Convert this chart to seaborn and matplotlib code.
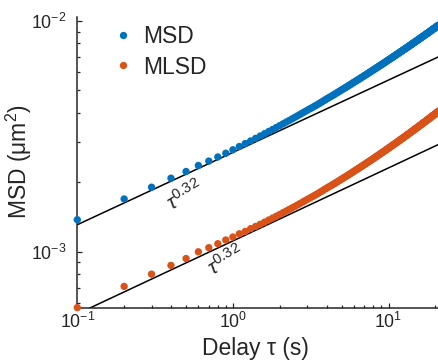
import numpy as np
import pandas as pd
import matplotlib
matplotlib.use("Agg")
import matplotlib.pyplot as plt
import seaborn as sns

# ---- data ----
tau = np.round(np.arange(1, 211) * 0.1, 1)  # delay, s

# MSD (units of 1e-3 um^2)
msd_e3 = [
    1.377, 1.694, 1.905, 2.084, 2.228, 2.366, 2.472, 2.576, 2.673, 2.767,
    2.858, 2.944, 3.022, 3.101, 3.177, 3.250, 3.321, 3.389, 3.456, 3.522,
    3.585, 3.647, 3.707, 3.766, 3.825, 3.882, 3.938, 3.993, 4.048, 4.102,
    4.151, 4.200, 4.250, 4.299, 4.348, 4.397, 4.446, 4.496, 4.545, 4.594,
    4.638, 4.681, 4.725, 4.769, 4.813, 4.856, 4.900, 4.944, 4.987, 5.031,
    5.071, 5.111, 5.150, 5.190, 5.230, 5.270, 5.310, 5.349, 5.389, 5.429,
    5.466, 5.503, 5.539, 5.576, 5.613, 5.650, 5.687, 5.723, 5.760, 5.797,
    5.832, 5.866, 5.901, 5.935, 5.970, 6.005, 6.039, 6.074, 6.108, 6.143,
    6.176, 6.208, 6.241, 6.274, 6.307, 6.339, 6.372, 6.405, 6.437, 6.470,
    6.501, 6.532, 6.563, 6.594, 6.626, 6.657, 6.688, 6.719, 6.750, 6.781,
    6.811, 6.841, 6.870, 6.900, 6.930, 6.960, 6.990, 7.019, 7.049, 7.079,
    7.108, 7.136, 7.165, 7.193, 7.222, 7.251, 7.279, 7.308, 7.336, 7.365,
    7.393, 7.420, 7.448, 7.476, 7.504, 7.531, 7.559, 7.587, 7.614, 7.642,
    7.669, 7.695, 7.722, 7.749, 7.776, 7.802, 7.829, 7.856, 7.882, 7.909,
    7.935, 7.961, 7.987, 8.013, 8.039, 8.064, 8.090, 8.116, 8.142, 8.168,
    8.193, 8.219, 8.244, 8.269, 8.295, 8.320, 8.345, 8.370, 8.396, 8.421,
    8.446, 8.470, 8.495, 8.519, 8.544, 8.568, 8.593, 8.617, 8.642, 8.666,
    8.690, 8.714, 8.738, 8.762, 8.786, 8.810, 8.834, 8.858, 8.882, 8.906,
    8.929, 8.953, 8.976, 9.000, 9.023, 9.046, 9.070, 9.093, 9.117, 9.140,
    9.163, 9.186, 9.209, 9.232, 9.255, 9.278, 9.301, 9.324, 9.347, 9.370,
    9.392, 9.415, 9.437, 9.460, 9.482, 9.504, 9.527, 9.549, 9.572, 9.594,
]

# MLSD (units of 1e-3 um^2)
mlsd_e3 = [
    0.573, 0.708, 0.800, 0.873, 0.935, 1.000, 1.042, 1.084, 1.125, 1.159,
    1.197, 1.225, 1.259, 1.288, 1.317, 1.345, 1.373, 1.400, 1.426, 1.452,
    1.477, 1.502, 1.526, 1.549, 1.572, 1.595, 1.618, 1.641, 1.663, 1.685,
    1.705, 1.725, 1.745, 1.765, 1.785, 1.806, 1.826, 1.846, 1.866, 1.886,
    1.904, 1.922, 1.940, 1.958, 1.976, 1.994, 2.012, 2.030, 2.048, 2.066,
    2.083, 2.100, 2.116, 2.133, 2.150, 2.166, 2.183, 2.200, 2.216, 2.233,
    2.249, 2.264, 2.280, 2.296, 2.311, 2.327, 2.342, 2.358, 2.373, 2.389,
    2.404, 2.419, 2.433, 2.448, 2.463, 2.478, 2.492, 2.507, 2.522, 2.537,
    2.551, 2.565, 2.579, 2.593, 2.607, 2.621, 2.635, 2.649, 2.663, 2.677,
    2.690, 2.704, 2.717, 2.731, 2.744, 2.758, 2.771, 2.785, 2.798, 2.812,
    2.825, 2.838, 2.851, 2.864, 2.877, 2.890, 2.903, 2.916, 2.929, 2.942,
    2.954, 2.967, 2.979, 2.992, 3.004, 3.017, 3.030, 3.042, 3.055, 3.067,
    3.079, 3.091, 3.104, 3.116, 3.128, 3.140, 3.152, 3.165, 3.177, 3.189,
    3.201, 3.213, 3.225, 3.236, 3.248, 3.260, 3.272, 3.284, 3.296, 3.308,
    3.319, 3.331, 3.342, 3.354, 3.365, 3.377, 3.389, 3.400, 3.412, 3.423,
    3.434, 3.446, 3.457, 3.468, 3.479, 3.491, 3.502, 3.513, 3.525, 3.536,
    3.547, 3.558, 3.569, 3.580, 3.591, 3.602, 3.613, 3.624, 3.635, 3.646,
    3.657, 3.668, 3.678, 3.689, 3.700, 3.711, 3.722, 3.733, 3.743, 3.754,
    3.765, 3.775, 3.786, 3.797, 3.807, 3.818, 3.829, 3.839, 3.850, 3.860,
    3.871, 3.881, 3.892, 3.902, 3.912, 3.923, 3.933, 3.944, 3.954, 3.965,
    3.975, 3.985, 3.995, 4.006, 4.016, 4.026, 4.036, 4.047, 4.057, 4.067,
]

series_names = ["MSD", "MLSD"]
series_colors = ["#0072BD", "#D95319"]

# power-law guide lines tau^0.32 (end points)
fit_tau = [0.1, 21.0]
msd_fit = [1.31e-3, 7.0e-3]
mlsd_fit = [5.38e-4, 2.92e-3]
fit_label = r"$\tau^{0.32}$"

# ---- build table ----
df = pd.DataFrame({
    "tau": np.concatenate([tau, tau]),
    "value": np.concatenate([np.array(msd_e3) * 1e-3, np.array(mlsd_e3) * 1e-3]),
    "series": [series_names[0]] * len(tau) + [series_names[1]] * len(tau),
})
fits = pd.DataFrame({
    "tau": fit_tau + fit_tau,
    "value": msd_fit + mlsd_fit,
    "which": ["a", "a", "b", "b"],
})

sns.set_style("ticks")
plt.rcParams["font.family"] = ["Liberation Sans", "DejaVu Sans"]
plt.rcParams["mathtext.fontset"] = "custom"
plt.rcParams["mathtext.rm"] = "Liberation Sans"
plt.rcParams["mathtext.it"] = "Liberation Sans:italic"

axcol = "#262626"
fig = plt.figure(figsize=(4.38, 3.60), dpi=100)
ax = fig.add_axes([77.3 / 438, (360 - 308.3) / 360, (438 - 77.3) / 438, (308.3 - 16.7) / 360])

sns.lineplot(data=fits, x="tau", y="value", units="which", estimator=None,
             color="black", linewidth=1.1, legend=False, ax=ax, zorder=2)
sns.scatterplot(data=df, x="tau", y="value", hue="series", hue_order=series_names,
                palette=series_colors, s=28, linewidth=0, edgecolor="none",
                ax=ax, zorder=3, clip_on=False)

ax.set_xscale("log")
ax.set_yscale("log")
ax.set_xlim(0.1, 20.8)
ax.set_ylim(5.69e-4, 1.044e-2)

for s in ["top", "right"]:
    ax.spines[s].set_visible(False)
for s in ["left", "bottom"]:
    ax.spines[s].set_color(axcol)
    ax.spines[s].set_linewidth(1.1)

ax.tick_params(which="both", direction="in", colors=axcol, labelcolor=axcol, width=0.9)
ax.tick_params(which="major", length=3.4, labelsize=12.8)
ax.tick_params(which="minor", length=2.4)
ax.tick_params(axis="y", which="major", pad=7.5)
ax.tick_params(axis="x", which="major", pad=2.5)

ax.set_xlabel("Delay τ (s)", fontsize=16.5, color=axcol)
ax.set_ylabel("MSD (μm$^2$)", fontsize=16.5, color=axcol)
ax.xaxis.set_label_coords(0.493, -0.10)
ax.yaxis.set_label_coords(-0.12, 0.505)

handles, labels = ax.get_legend_handles_labels()
ax.legend(handles, labels, frameon=False, loc="upper left",
          bbox_to_anchor=(102.5 / 438, 1 - 16 / 360), bbox_transform=fig.transFigure,
          borderaxespad=0, fontsize=16.5, handlelength=1.0, handletextpad=0.37,
          labelspacing=0.32, markerscale=1.0)

ax.text(0.49, 1.76e-3, fit_label, fontsize=15, color=axcol, rotation=31,
        ha="center", va="center", rotation_mode="anchor")
ax.text(0.90, 9.2e-4, fit_label, fontsize=15, color=axcol, rotation=31,
        ha="center", va="center", rotation_mode="anchor")

fig.savefig("out.png", dpi=100)
